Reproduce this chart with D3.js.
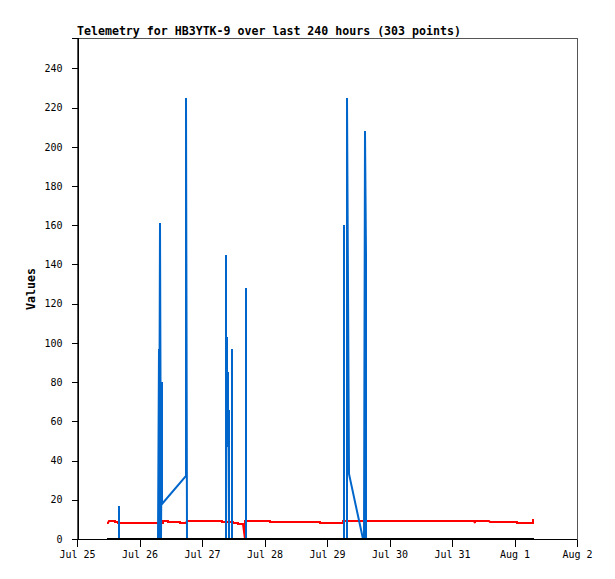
<!DOCTYPE html>
<html><head><meta charset="utf-8">
<script src="https://cdn.jsdelivr.net/npm/d3@7/dist/d3.min.js"></script>
<style>
html,body{margin:0;padding:0;background:#fff;}
svg{display:block;}
text{font-family:"DejaVu Sans Mono","Liberation Mono",monospace;}
</style></head>
<body>
<svg id="c" width="615" height="579"></svg>
<script>
// ---- data (hours since Jul 25 00:00, value) ----
const startDate = Date.UTC(2023, 6, 25, 0, 0);
const xTickLabels = ["Jul 25","Jul 26","Jul 27","Jul 28","Jul 29","Jul 30","Jul 31","Aug 1","Aug 2"];
const yTicks = [0,20,40,60,80,100,120,140,160,180,200,220,240];

const redHours  = [11.6,12.0,12.2,14.5,14.6,15.8,15.9,33.0,33.1,35.0,35.1,39.4,39.5,42.0,42.1,55.5,55.6,57.4,57.5,59.9,60.0,61.9,62.0,63.9,64.4,64.5,74.1,74.2,93.3,93.4,102.2,102.3,152.6,152.8,153.0,158.3,158.4,169.0,169.1,175.0,175.1,175.4];
const redValues = [8.3,8.3,9.2,9.2,8.7,8.7,8.3,8.3,9.0,9.0,8.7,8.7,8.3,8.3,9.0,9.0,8.5,8.5,8.7,8.7,8.0,8.0,7.5,7.5,0,9.1,9.1,8.7,8.7,8.2,8.2,9.1,9.1,8.0,9.1,9.1,8.7,8.7,8.2,8.2,9.6,9.6];

const blueHours  = [11.6,16.0,16.1,16.2,31.2,31.3,31.5,31.9,32.1,32.5,32.8,41.8,42.0,42.1,57.1,57.2,57.25,57.55,57.65,57.95,58.05,58.35,58.45,58.55,59.4,59.5,59.6,64.8,64.9,65.0,102.4,102.5,102.6,103.6,103.7,104.4,110.0,110.3,110.4,111.0,111.1,175.4];
const blueValues = [0,0,17,0,0,97,0,161,0,80,18,32,225,0,0,145,0,103,66,85,47,66,28,0,0,97,0,0,128,0,0,160,0,0,225,33,0,0,208,145,0,0];

const blackHours  = [11.4,175.5];
const blackValues = [0,0];

// ---- layout ----
const svg = d3.select("#c");
const L = 77, R = 577, T = 38, B = 539;
const toDate = h => new Date(startDate + h*3600e3);
const x = d3.scaleUtc().domain([toDate(0), toDate(192)]).range([L, R]);
const y = d3.scaleLinear().domain([0, 255.5]).range([B, T]);
const xr = x.copy().rangeRound([L, R]);
const yr = y.copy().rangeRound([B, T]);

const line = d3.line().x(d => xr(toDate(d[0]))).y(d => yr(d[1]));
const zip = (a,b) => a.map((v,i)=>[v,b[i]]);

// frame
svg.append("rect").attr("x", L+0.5).attr("y", T+0.5).attr("width", R-L).attr("height", B-T)
  .attr("fill","none").attr("stroke","#555").attr("stroke-width",1).attr("shape-rendering","crispEdges");

// series
svg.append("path").datum(zip(redHours, redValues)).attr("d", line)
  .attr("fill","none").attr("stroke","#ff0000").attr("stroke-width",2);
svg.append("path").datum(zip(blueHours, blueValues)).attr("d", line)
  .attr("fill","none").attr("stroke","#0066cc").attr("stroke-width",2);
svg.append("path").datum(zip(blackHours, blackValues)).attr("d", line)
  .attr("fill","none").attr("stroke","#000").attr("stroke-width",2);

// axes
const xTickDates = xTickLabels.map((_,i)=>toDate(i*24));
const xAxis = d3.axisBottom(x).tickValues(xTickDates).tickFormat((d,i)=>xTickLabels[i]).tickSizeOuter(0).tickSize(7).tickPadding(4);
const gx = svg.append("g").attr("transform",`translate(0,${B+0.5})`).call(xAxis);
const yAxis = d3.axisLeft(y).tickValues(yTicks).tickSizeOuter(0).tickSize(6).tickPadding(9);
const gy = svg.append("g").attr("transform",`translate(${L+0.5},0)`).call(yAxis);
[gx,gy].forEach(g=>{
  g.selectAll("path,line").attr("stroke","#000").attr("shape-rendering","crispEdges");
  g.selectAll("text").attr("font-size","10px").attr("fill","#000")
   .attr("font-family",'"DejaVu Sans Mono","Liberation Mono",monospace');
});
gx.select(".domain").attr("d", `M${L},0H${R}`);

// title
svg.append("text").attr("x", L).attr("y", 35).attr("font-size","11.6px").attr("font-weight","bold")
  .text("Telemetry for HB3YTK-9 over last 240 hours (303 points)");
// y label
svg.append("text").attr("transform","translate(35,289) rotate(-90)").attr("text-anchor","middle")
  .attr("font-size","11.6px").attr("font-weight","bold").text("Values");
</script>
</body></html>
